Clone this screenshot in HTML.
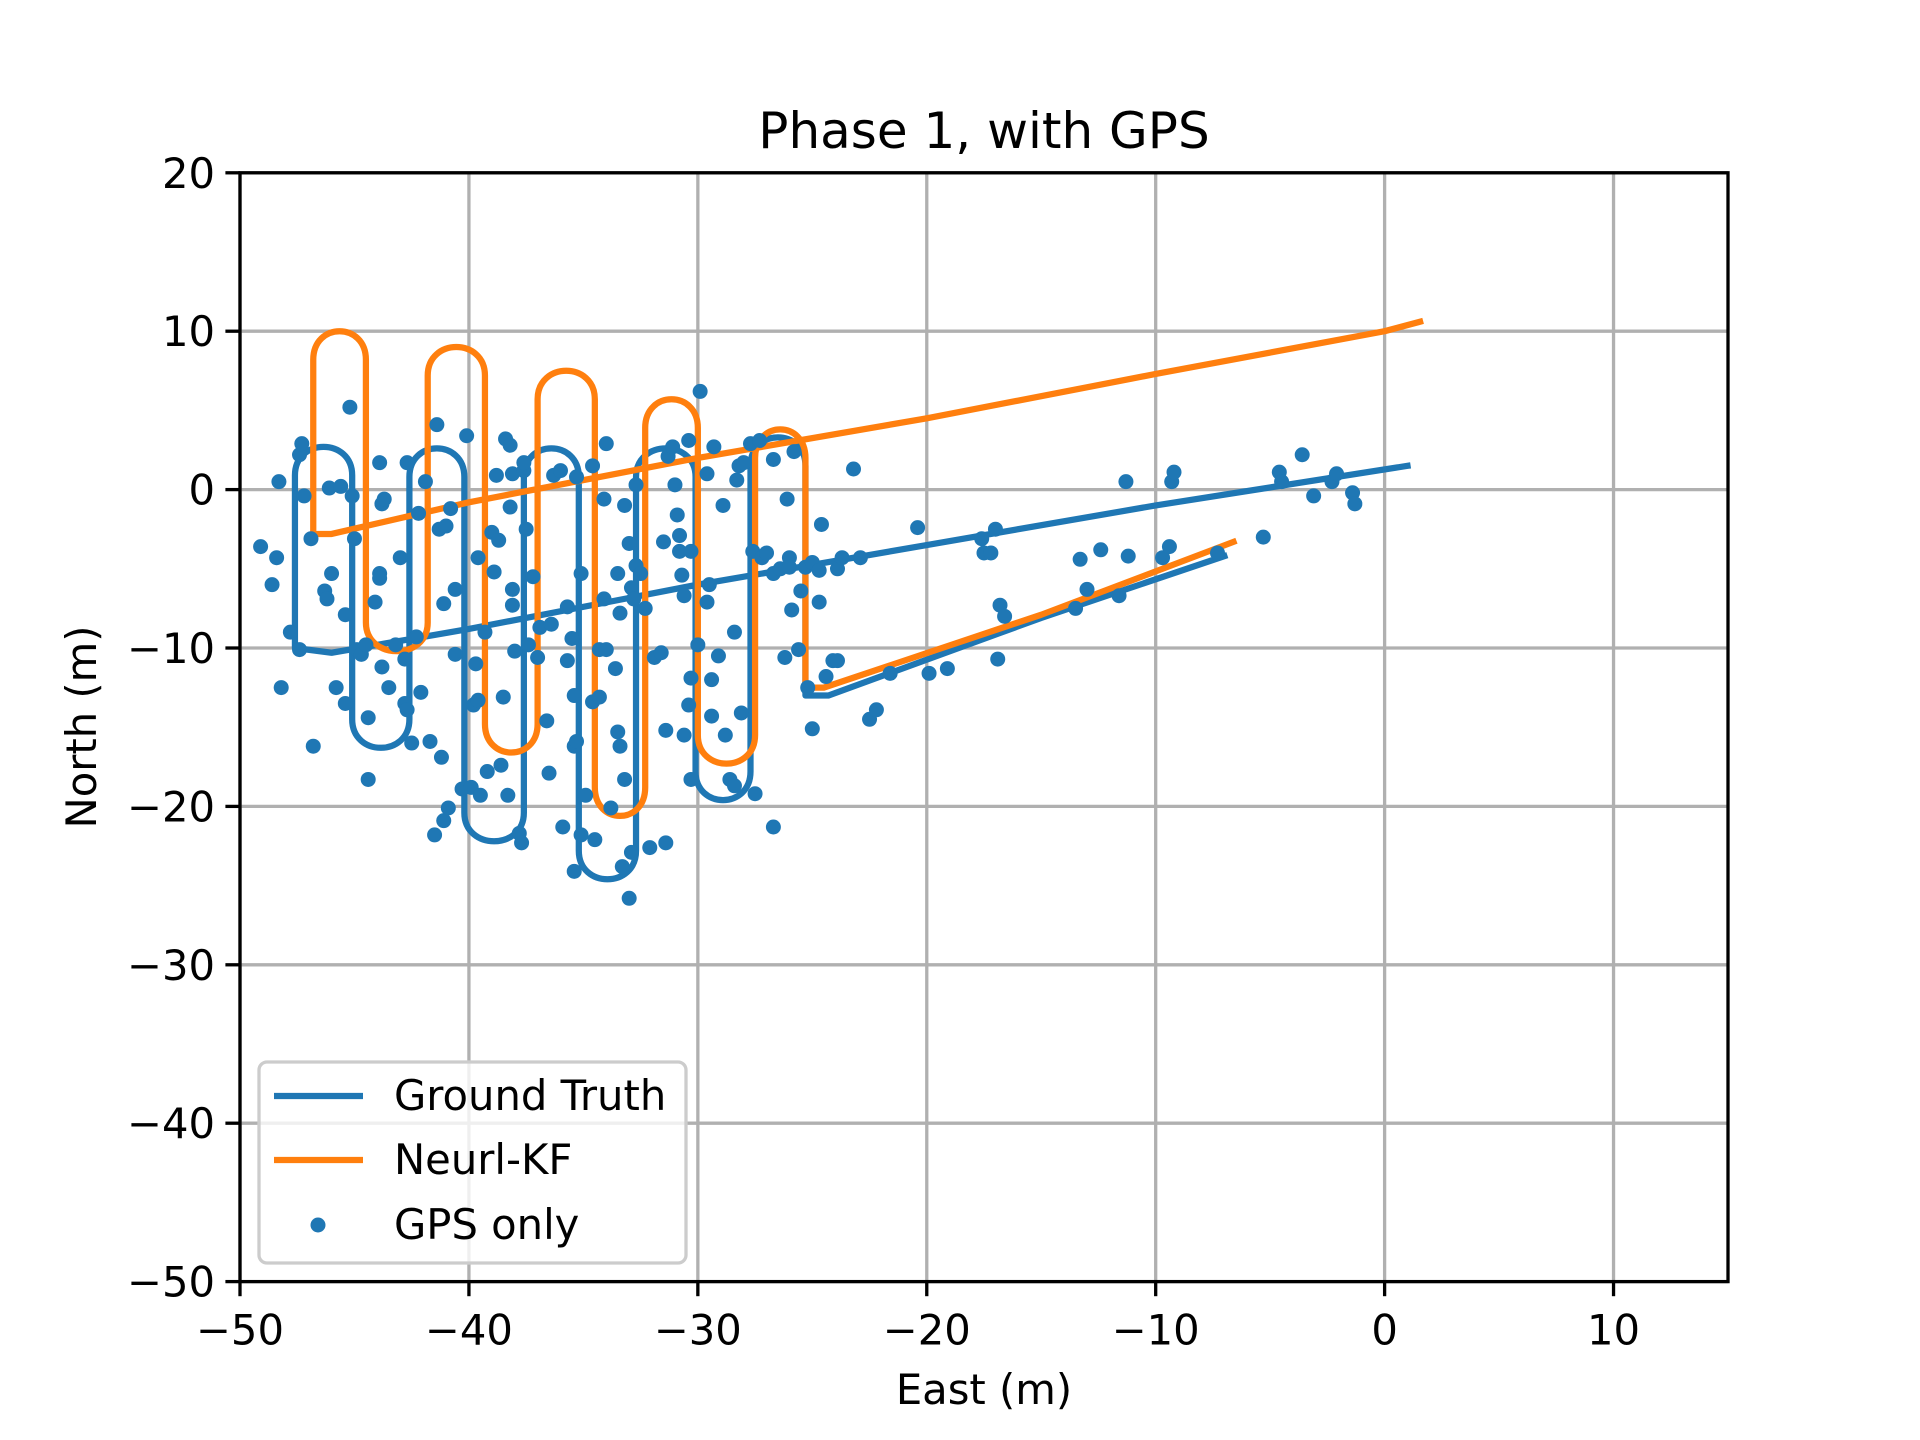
<!DOCTYPE html>
<html><head><meta charset="utf-8"><style>
html,body{margin:0;padding:0;background:#fff}
svg{display:block}
text{font-family:"DejaVu Sans","Liberation Sans",sans-serif;fill:#000}
</style></head><body>
<svg id="chart" width="1920" height="1440" viewBox="0 0 1920 1440">
<rect x="0" y="0" width="1920" height="1440" fill="#fff"/>
<g id="grid"></g>
<g id="series"></g>
<g id="axes"></g>
<text x="984" y="148" font-size="50" text-anchor="middle">Phase 1, with GPS</text>
<text x="984" y="1418" font-size="41.7" text-anchor="middle" transform="translate(0,-14)">East (m)</text>
<text x="0" y="0" font-size="41.7" text-anchor="middle" transform="translate(96,727) rotate(-90)">North (m)</text>
<g>
<rect x="264" y="1074" width="427" height="201" rx="8" fill="#fff" fill-opacity="0.8" stroke="#cccccc" stroke-width="3.3" transform="translate(-5,-12)"/>
<g transform="translate(-5,-12)">
<line x1="279" y1="1108" x2="368" y2="1108" stroke="#1f77b4" stroke-width="6.25"/>
<text x="399" y="1122" font-size="41.7">Ground Truth</text>
<line x1="279" y1="1172" x2="368" y2="1172" stroke="#ff7f0e" stroke-width="6.25"/>
<text x="399" y="1186" font-size="41.7">Neurl-KF</text>
<circle cx="323" cy="1237" r="7.5" fill="#1f77b4"/>
<text x="399" y="1251" font-size="41.7">GPS only</text>
</g>
</g>
</svg>
<script>
const xTicks=[-50,-40,-30,-20,-10,0,10];
const yTicks=[-50,-40,-30,-20,-10,0,10,20];
// Ground truth
const gtLineX=[1,-10,-20,-30,-40,-46,-47.6];
const gtLineY=[1.5,-1,-3.5,-6,-8.8,-10.3,-10];
const gtLegX=[-47.6,-45.1,-42.6,-40.2,-37.6,-35.2,-32.7,-30.1,-27.7,-25.3];
const gtTurnY=[2.7,-16.3,2.6,-22.2,2.6,-24.6,2.6,-19.6,3.3];
const gtTailX=[-25.3,-24.3,-15,-7];
const gtTailY=[-13,-13,-8.1,-4.2];
// Neurl-KF
const kfLineX=[1.55,0,-10,-20,-30,-40,-46,-46.8];
const kfLineY=[10.6,10,7.3,4.5,2.0,-0.8,-2.8,-2.8];
const kfLegX=[-46.8,-44.5,-41.8,-39.3,-37,-34.5,-32.3,-30,-27.5,-25.3];
const kfTurnY=[10,-10.2,9,-16.6,7.5,-20.6,5.7,-17.3,3.8];
const kfTailX=[-25.3,-24.5,-15,-6.6];
const kfTailY=[-12.5,-12.5,-7.9,-3.3];
// GPS
const gpsX=[-49.1,-48.4,-48.6,-48.3,-48.2,-47.8,-47.4,-47.3,-47.4,-47.2,-46.9,-46.8,-46.3,-46.2,-46.1,-46.0,-45.8,-45.6,-45.4,-45.4,-45.2,-45.1,-45.0,-44.9,-44.7,-44.5,-44.4,-44.4,-44.1,-43.9,-43.9,-43.9,-43.8,-43.7,-43.8,-43.5,-43.2,-43.0,-42.8,-42.8,-42.7,-42.7,-42.5,-42.3,-42.2,-42.1,-41.9,-41.7,-41.5,-41.4,-41.3,-41.2,-41.1,-40.9,-41.0,-40.8,-41.1,-40.6,-40.6,-40.3,-40.1,-39.9,-39.8,-39.7,-39.6,-39.5,-39.6,-39.3,-39.2,-39.0,-38.9,-38.8,-38.7,-38.6,-38.5,-38.4,-38.3,-38.2,-38.2,-38.1,-38.1,-38.1,-38.0,-37.8,-37.7,-37.6,-37.6,-37.5,-37.4,-37.2,-37.0,-36.9,-36.6,-36.5,-36.3,-36.4,-36.0,-35.9,-35.7,-35.7,-35.5,-35.4,-35.3,-35.4,-35.4,-35.3,-35.1,-35.1,-34.9,-34.6,-34.6,-34.5,-34.3,-34.3,-34.1,-34.1,-34.0,-34.0,-33.8,-33.6,-33.5,-33.5,-33.4,-33.4,-33.3,-33.2,-33.2,-33.0,-33.0,-32.9,-32.9,-32.8,-32.7,-32.7,-32.5,-32.3,-32.1,-31.9,-31.6,-31.5,-31.4,-31.4,-31.3,-31.1,-31.0,-30.9,-30.8,-30.8,-30.7,-30.6,-30.6,-30.4,-30.3,-30.4,-30.3,-30.3,-30.0,-29.9,-29.6,-29.6,-29.5,-29.4,-29.4,-29.3,-29.1,-28.9,-28.8,-28.6,-28.4,-28.4,-28.3,-28.2,-28.1,-28.0,-27.7,-27.6,-27.5,-27.3,-27.2,-27.0,-26.7,-26.7,-26.7,-26.4,-26.2,-26.1,-26.0,-26.0,-25.9,-25.8,-25.6,-25.5,-25.3,-25.2,-25.0,-25.0,-24.7,-24.7,-24.6,-24.4,-24.1,-23.9,-23.9,-23.7,-23.2,-22.9,-22.5,-22.2,-21.6,-20.4,-19.9,-19.1,-17.6,-17.5,-17.2,-17.0,-16.8,-16.6,-16.9,-13.5,-13.3,-13.0,-12.4,-11.6,-11.3,-11.2,-9.7,-9.4,-9.3,-9.2,-7.3,-5.3,-4.6,-4.5,-3.6,-3.1,-2.3,-2.1,-1.4,-1.3];
const gpsY=[-3.6,-4.3,-6.0,0.5,-12.5,-9.0,2.2,2.9,-10.1,-0.4,-3.1,-16.2,-6.4,-6.9,0.1,-5.3,-12.5,0.2,-7.9,-13.5,5.2,-0.4,-3.1,-10.1,-10.4,-9.8,-14.4,-18.3,-7.1,1.7,-5.3,-5.6,-0.9,-0.6,-11.2,-12.5,-9.8,-4.3,-10.7,-13.5,-13.9,1.7,-16.0,-9.3,-1.5,-12.8,0.5,-15.9,-21.8,4.1,-2.5,-16.9,-20.9,-20.1,-2.3,-1.2,-7.2,-6.3,-10.4,-18.9,3.4,-18.8,-13.6,-11.0,-13.3,-19.3,-4.3,-9.0,-17.8,-2.7,-5.2,0.9,-3.2,-17.4,-13.1,3.2,-19.3,2.8,-1.1,-7.3,1.0,-6.3,-10.2,-21.7,-22.3,1.2,1.7,-2.5,-9.8,-5.5,-10.6,-8.7,-14.6,-17.9,0.9,-8.5,1.2,-21.3,-7.4,-10.8,-9.4,-16.2,0.8,-13.0,-24.1,-15.9,-5.3,-21.8,-19.3,1.5,-13.4,-22.1,-10.1,-13.1,-0.6,-6.9,2.9,-10.1,-20.1,-11.3,-5.3,-15.3,-16.2,-7.8,-23.8,-1.0,-18.3,-25.8,-3.4,-6.2,-22.9,-6.9,0.3,-4.8,-5.3,-7.5,-22.6,-10.6,-10.3,-3.3,-22.3,-15.2,2.1,2.7,0.3,-1.6,-2.9,-3.9,-5.4,-6.7,-15.5,3.1,-3.9,-13.6,-11.9,-18.3,-9.8,6.2,1.0,-7.1,-6.0,-14.3,-12.0,2.7,-10.5,-1.0,-15.5,-18.3,-9.0,-18.7,0.6,1.5,-14.1,1.7,2.9,-3.9,-19.2,3.1,-4.3,-4.0,-21.3,-5.3,1.9,-5.0,-10.6,-0.6,-4.3,-4.9,-7.6,2.4,-10.1,-6.4,-4.9,-12.5,-15.1,-4.6,-7.1,-5.1,-2.2,-11.8,-10.8,-10.8,-5.0,-4.3,1.3,-4.3,-14.5,-13.9,-11.6,-2.4,-11.6,-11.3,-3.1,-4.0,-4.0,-2.5,-7.3,-8.0,-10.7,-7.5,-4.4,-6.3,-3.8,-6.7,0.5,-4.2,-4.3,-3.6,0.5,1.1,-4.0,-3.0,1.1,0.5,2.2,-0.4,0.5,1.0,-0.2,-0.9];

const L=240,R=1728,T=172.8,B=1281.6,X0=-50,X1=15,Y0=-50,Y1=20;
function sx(v){return L+(v-X0)/(X1-X0)*(R-L);}
function sy(v){return B-(v-Y0)/(Y1-Y0)*(B-T);}
const NS='http://www.w3.org/2000/svg';
function mk(tag,parent,attrs){const e=document.createElementNS(NS,tag);for(const k in attrs)e.setAttribute(k,attrs[k]);parent.appendChild(e);return e;}
const grid=document.getElementById('grid'),axes=document.getElementById('axes'),series=document.getElementById('series');

xTicks.forEach(v=>{
  const g=mk('line',grid,{x1:sx(v),x2:sx(v),y1:T,y2:B,stroke:'#b0b0b0','stroke-width':3.3});
  
  
  const t=mk('line',axes,{x1:sx(v),x2:sx(v),y1:B,y2:B+14.6,stroke:'#000','stroke-width':3.3});
  
  
  const lb=mk('text',axes,{x:sx(v),y:B+63,'font-size':41.7,'text-anchor':'middle'});
  lb.textContent=(v<0?'\u2212'+(-v):''+v);
  
  
});
yTicks.forEach(v=>{
  const g=mk('line',grid,{x1:L,x2:R,y1:sy(v),y2:sy(v),stroke:'#b0b0b0','stroke-width':3.3});
  
  
  const t=mk('line',axes,{x1:L-14.6,x2:L,y1:sy(v),y2:sy(v),stroke:'#000','stroke-width':3.3});
  
  
  const lb=mk('text',axes,{x:L-25,y:sy(v)+15,'font-size':41.7,'text-anchor':'end'});
  lb.textContent=(v<0?'\u2212'+(-v):''+v);
  
  
});
const frame=mk('rect',axes,{x:L,y:T,width:R-L,height:B-T,fill:'none',stroke:'#000','stroke-width':3.3});



function buildPath(lx,ly,legX,turnY,tx,ty){
  const r=1.8;
  let d='M'+sx(lx[0])+','+sy(ly[0]);
  for(let i=1;i<lx.length;i++) d+=' L'+sx(lx[i])+','+sy(ly[i]);
  for(let i=0;i<turnY.length;i++){
    const s=(i%2===0)?1:-1;
    const yb=turnY[i]-s*r;
    d+=' L'+sx(legX[i])+','+sy(yb);
    const yc=turnY[i]+s*r/3;
    d+=' C'+sx(legX[i])+','+sy(yc)+' '+sx(legX[i+1])+','+sy(yc)+' '+sx(legX[i+1])+','+sy(yb);
  }
  for(let i=0;i<tx.length;i++) d+=' L'+sx(tx[i])+','+sy(ty[i]);
  return d;
}
const gt=mk('path',series,{d:buildPath(gtLineX,gtLineY,gtLegX,gtTurnY,gtTailX,gtTailY),fill:'none',stroke:'#1f77b4','stroke-width':6.25,'stroke-linejoin':'round','stroke-linecap':'square'});


const kf=mk('path',series,{d:buildPath(kfLineX,kfLineY,kfLegX,kfTurnY,kfTailX,kfTailY),fill:'none',stroke:'#ff7f0e','stroke-width':6.25,'stroke-linejoin':'round','stroke-linecap':'square'});


const gg=mk('g',series,{});


gpsX.forEach((x,i)=>{
  const c=mk('circle',gg,{cx:sx(x),cy:sy(gpsY[i]),r:7.5,fill:'#1f77b4'});
  
  
});
</script>
</body></html>
